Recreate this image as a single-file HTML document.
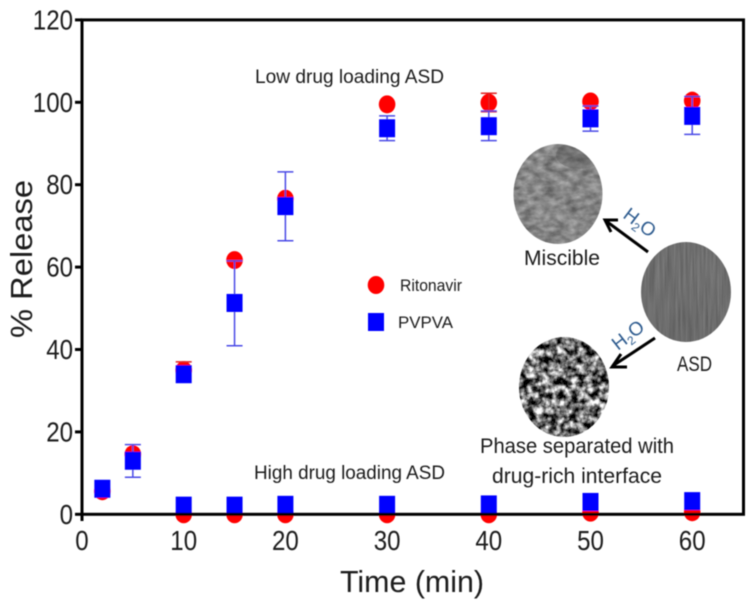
<!DOCTYPE html>
<html lang="en">
<head>
<meta charset="utf-8">
<title>% Release vs Time</title>
<style>
html,body{margin:0;padding:0;background:#fff;width:750px;height:606px;overflow:hidden}
svg{display:block}
text{font-family:"Liberation Sans",sans-serif;fill:#1a1a1a}
</style>
</head>
<body>
<svg id="chart" width="750" height="606" viewBox="0 0 750 606">
<defs>
<filter id="soft" x="-5%" y="-5%" width="110%" height="110%"><feGaussianBlur stdDeviation="0.45"/></filter>
<filter id="grainA" x="0" y="0" width="100%" height="100%" color-interpolation-filters="sRGB">
<feTurbulence type="fractalNoise" baseFrequency="0.09 0.16" numOctaves="3" seed="4"/>
<feColorMatrix type="matrix" values="0.45 0 0 0 0.3  0.45 0 0 0 0.3  0.45 0 0 0 0.3  0 0 0 0 1"/>
</filter>
<filter id="grainB" x="0" y="0" width="100%" height="100%" color-interpolation-filters="sRGB">
<feTurbulence type="fractalNoise" baseFrequency="0.5 0.02" numOctaves="2" seed="7"/>
<feColorMatrix type="matrix" values="0.2 0 0 0 0.33  0.2 0 0 0 0.33  0.2 0 0 0 0.33  0 0 0 0 1"/>
</filter>
<filter id="grainC" x="0" y="0" width="100%" height="100%" color-interpolation-filters="sRGB">
<feTurbulence type="fractalNoise" baseFrequency="0.14" numOctaves="4" seed="12"/>
<feColorMatrix type="matrix" values="2.3 0 0 0 -0.72  2.3 0 0 0 -0.72  2.3 0 0 0 -0.72  0 0 0 0 1"/>
</filter>
<clipPath id="clipMiscible"><ellipse cx="558" cy="194" rx="44.5" ry="50"/></clipPath>
<clipPath id="clipAsd"><ellipse cx="686" cy="292" rx="45" ry="50"/></clipPath>
<clipPath id="clipPhase"><ellipse cx="564" cy="387" rx="45" ry="50"/></clipPath>
</defs>
<g filter="url(#soft)">
<g id="tick-marks"></g>
<g id="marks"></g>
<g id="axes"></g>

<text x="255" y="83" font-size="19" textLength="189" lengthAdjust="spacingAndGlyphs">Low drug loading ASD</text>
<text x="254" y="479" font-size="19" textLength="191" lengthAdjust="spacingAndGlyphs">High drug loading ASD</text>

<g>
<ellipse cx="376" cy="285" rx="8.3" ry="9" fill="#ff0000"/>
<rect x="368" y="313" width="16" height="18" fill="#0000ff"/>
<text x="400" y="291" font-size="17" textLength="62" lengthAdjust="spacingAndGlyphs">Ritonavir</text>
<text x="398" y="328" font-size="17" textLength="55" lengthAdjust="spacingAndGlyphs">PVPVA</text>
</g>

<g clip-path="url(#clipMiscible)">
<rect x="510" y="140" width="100" height="108" fill="#808080" filter="url(#grainA)"/>
<ellipse cx="580" cy="155" rx="24" ry="14" fill="#555" opacity="0.4"/>
</g>
<g clip-path="url(#clipAsd)">
<rect x="638" y="238" width="100" height="108" fill="#6e6e6e" filter="url(#grainB)"/>
</g>
<g clip-path="url(#clipPhase)">
<rect x="516" y="333" width="100" height="108" fill="#777" filter="url(#grainC)"/>
</g>

<g fill="none" stroke="#000" stroke-width="3">
<path d="M648 252 L606 221"/>
<path d="M618 220 L605 220 L611 232"/>
</g>
<g fill="none" stroke="#000" stroke-width="3">
<path d="M655 338 L614 365"/>
<path d="M621 354 L612 367 L627 367"/>
</g>
<text transform="translate(622,217) rotate(37)" font-size="19" style="fill:#2f5c8f">H<tspan font-size="12" dy="4">2</tspan><tspan dy="-4">O</tspan></text>
<text transform="translate(618,351) rotate(-38)" font-size="19" style="fill:#2f5c8f">H<tspan font-size="12" dy="4">2</tspan><tspan dy="-4">O</tspan></text>

<text x="524" y="265" font-size="21" textLength="76" lengthAdjust="spacingAndGlyphs">Miscible</text>
<text x="677" y="371" font-size="21" textLength="35" lengthAdjust="spacingAndGlyphs">ASD</text>
<text x="480" y="453" font-size="21" textLength="194" lengthAdjust="spacingAndGlyphs">Phase separated with</text>
<text x="492" y="483" font-size="21" textLength="170" lengthAdjust="spacingAndGlyphs">drug-rich interface</text>

<text transform="translate(32,338) rotate(-90)" font-size="31" textLength="158" lengthAdjust="spacingAndGlyphs">% Release</text>
<text x="340" y="592" font-size="31" textLength="144" lengthAdjust="spacingAndGlyphs">Time (min)</text>
</g>

<script>
var times = [2, 5, 10, 15, 20, 30, 40, 50, 60];
var xTicks = [0, 10, 20, 30, 40, 50, 60];
var yTicks = [0, 20, 40, 60, 80, 100, 120];

var ritonavirHigh = [null, null, 0, 0, 0, 0, 0, 0.4, 0.5];
var pvpvaHigh = [null, null, 2.1, 2.1, 2.3, 2.3, 2.4, 3.0, 3.2];

var ritonavirLow = [5.6, 14.6, 35, 61.7, 76.6, 99.5, 99.9, 100.2, 100.4];
var ritonavirLowUpper = [null, null, 37, null, null, null, 102.2, null, null];
var ritonavirLowLower = [null, null, null, null, null, null, 97.7, null, null];

var pvpvaLow = [6.2, 13, 34, 51.3, 74.8, 93.7, 94.2, 96.1, 96.7];
var pvpvaLowUpper = [null, 16.9, null, 61.5, 83.1, 96.7, 97.9, 99.1, 101.4];
var pvpvaLowLower = [null, 9, null, 40.9, 66.4, 90.7, 90.7, 93, 92.2];

function xScale(v) { return 82 + v * 10.17; }
function yScale(v) { return 514.3 - v * 4.12; }

var NS = 'http://www.w3.org/2000/svg';
var marks = document.getElementById('marks');
var axes = document.getElementById('axes');
var tickMarks = document.getElementById('tick-marks');

function make(tag, attrs, parent) {
  var el = document.createElementNS(NS, tag);
  for (var k in attrs) { el.setAttribute(k, attrs[k]); }
  parent.appendChild(el);
  return el;
}

function drawCircle(t, v) {
  var c = make('ellipse', {cx: xScale(t), cy: yScale(v), rx: 8.3, ry: 9, fill: '#ff0000'}, marks);
  
  
}

function drawSquare(t, v) {
  var s = make('rect', {x: xScale(t) - 8, y: yScale(v) - 9, width: 16, height: 18, fill: '#0000ff'}, marks);
  
  
}

function drawError(t, hi, lo, color) {
  var g = make('g', {stroke: color, 'stroke-width': 1.5, fill: 'none'}, marks);
  
  
  var x = xScale(t);
  var top = hi === null ? null : yScale(hi);
  var bottom = lo === null ? null : yScale(lo);
  if (top !== null && bottom !== null) { make('line', {x1: x, x2: x, y1: top, y2: bottom}, g); }
  if (top !== null) { make('line', {x1: x - 8, x2: x + 8, y1: top, y2: top}, g); }
  if (bottom !== null) { make('line', {x1: x - 8, x2: x + 8, y1: bottom, y2: bottom}, g); }
}

times.forEach(function (t, i) {
  if (ritonavirHigh[i] !== null) { drawCircle(t, ritonavirHigh[i]); }
  drawCircle(t, ritonavirLow[i]);
  drawError(t, ritonavirLowUpper[i], ritonavirLowLower[i], '#e02020');
});
times.forEach(function (t, i) {
  drawError(t, pvpvaLowUpper[i], pvpvaLowLower[i], '#4a4ae6');
  drawSquare(t, pvpvaLow[i]);
  if (pvpvaHigh[i] !== null) { drawSquare(t, pvpvaHigh[i]); }
});

var frame = make('rect', {x: xScale(0), y: yScale(120), width: 661.5, height: yScale(0) - yScale(120), fill: 'none', stroke: '#000', 'stroke-width': 3}, axes);



yTicks.forEach(function (v) {
  var y = yScale(v);
  var tick = make('line', {x1: 75, x2: xScale(0), y1: y, y2: y, stroke: '#000', 'stroke-width': 3}, axes);
  
  
  var label = make('text', {x: 73, y: y + 9.5, 'font-size': 28, 'text-anchor': 'end', textLength: String(v).length * 13.4, lengthAdjust: 'spacingAndGlyphs'}, axes);
  label.textContent = v;
  
  
});

xTicks.forEach(function (v) {
  var x = xScale(v);
  var tick = make('line', {x1: x, x2: x, y1: yScale(0), y2: 521, stroke: '#000', 'stroke-width': 3}, tickMarks);
  
  
  var label = make('text', {x: x, y: 550, 'font-size': 28, 'text-anchor': 'middle', textLength: String(v).length * 13.4, lengthAdjust: 'spacingAndGlyphs'}, axes);
  label.textContent = v;
  
  
});
</script>
</svg>
</body>
</html>
